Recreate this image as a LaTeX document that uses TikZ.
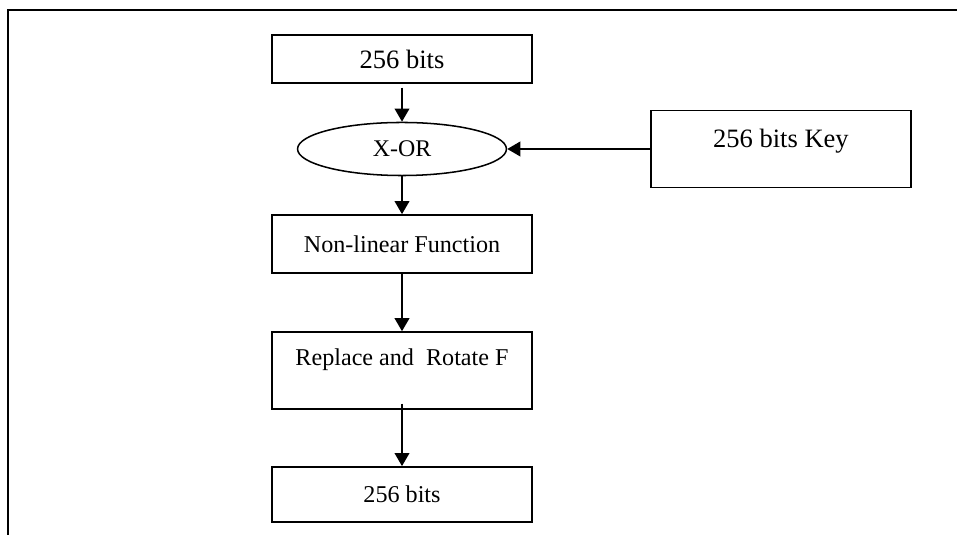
\documentclass[tikz,border=0pt]{standalone}
\usepackage{fontspec}
\setmainfont{Liberation Serif}
\usetikzlibrary{positioning,shapes.geometric,arrows.meta}

\begin{document}
\begin{tikzpicture}[x=0.46pt,y=-0.46pt,on grid,
  blk/.style={draw,rectangle,line width=0.7pt,minimum width=119.6pt,inner sep=0pt,
    font=\fontsize{11.1}{13}\selectfont},
  big/.style={font=\fontsize{12.2}{14}\selectfont},
  xorop/.style={draw,ellipse,line width=0.7pt,minimum width=96.1pt,minimum height=24.4pt,
    inner sep=0pt,font=\fontsize{11}{13}\selectfont},
  flow/.style={-{Triangle[width=6.6pt,length=6pt]},line width=1.15pt}]
\useasboundingbox (0,0) rectangle (957,535);
% frame, open on the right and at the bottom
\draw[line width=0.9pt] (8,535) -- (8,10) -- (957,10);

\node[blk,big,minimum height=22.1pt] (in) at (402,59) {256 bits};
\node[xorop] (xor) [below=41.4pt of in] {X-OR};
	\path[flow] (in) edge[shorten <=1.8pt] (xor);
\node[blk,big,minimum height=35.4pt,text depth=10pt] (key) [right=174.3pt of xor] {256 bits Key};
	\path[flow] (key) edge (xor);
\node[blk,minimum height=26.7pt] (nlf) [below=43.7pt of xor] {Non-linear Function};
	\path[flow] (xor) edge (nlf);
\node[blk,minimum height=35.4pt,text depth=12.4pt] (rot) [below=58.2pt of nlf] {Replace and \ Rotate F};
	\path[flow] (nlf) edge (rot);
\node[blk,minimum height=25.3pt] (out) [below=57pt of rot] {256 bits};
	\path[flow] (rot) edge[shorten <=-2.8pt] (out);
\end{tikzpicture}
\end{document}
